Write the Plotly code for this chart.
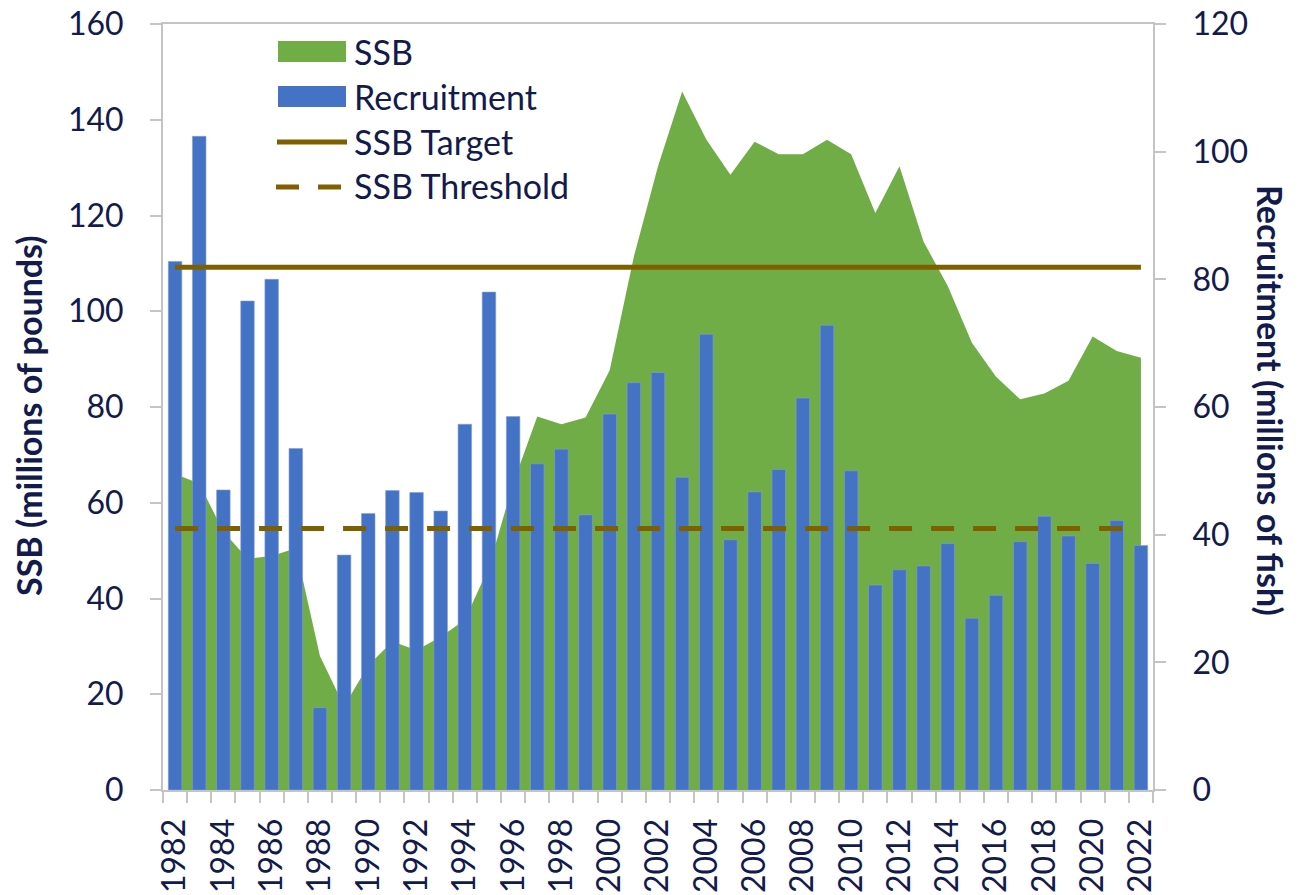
import plotly.graph_objects as go

years = list(range(1982, 2023))
ssb = [66.0, 64.0, 54.0, 48.3, 48.9, 50.5, 28.0, 17.5, 26.0, 31.0,
       29.2, 32.0, 35.5, 46.6, 64.0, 78.0, 76.4, 77.8, 87.7, 111.4,
       130.3, 145.9, 135.9, 128.5, 135.4, 132.8, 132.8, 135.8, 132.8, 120.5,
       130.3, 114.5, 105.3, 93.4, 86.3, 81.6, 82.8, 85.5, 94.7, 91.7, 90.3]
recruitment = [82.8, 102.4, 47.0, 76.6, 80.0, 53.5, 12.9, 36.8, 43.3, 46.9,
               46.6, 43.7, 57.3, 78.0, 58.5, 51.1, 53.4, 43.1, 58.9, 63.8,
               65.4, 49.0, 71.4, 39.2, 46.7, 50.2, 61.4, 72.8, 50.0, 32.1,
               34.5, 35.1, 38.6, 26.9, 30.5, 38.9, 42.9, 39.8, 35.5, 42.2, 38.3]
ssb_target = [109.2]
ssb_threshold = [54.6]
x_tick_labels = [str(y) for y in range(1982, 2023, 2)]
legend_names = ["SSB", "Recruitment", "SSB Target", "SSB Threshold"]

GREEN = "#70AD47"
BLUE = "#4472C4"
BROWN = "#7F6000"
TEXT = "#131A4C"
AXIS = "#C4C4C4"
FONT = "Lato"

# body margin is removed by post_script, so the figure fills the 1303x895 window
W, H = 1303, 895
L, T = 163, 24
PW, PH = 990, 766
R, B = W - L - PW, H - T - PH


def px(xp):
    return (xp - L) / PW


def py(yp):
    return (T + PH - yp) / PH


fig = go.Figure()
fig.add_trace(go.Scatter(x=years, y=ssb, fill="tozeroy", mode="lines",
                         line=dict(width=0, color=GREEN), fillcolor=GREEN,
                         name=legend_names[0], yaxis="y"))
fig.add_trace(go.Bar(x=years, y=recruitment, yaxis="y2", width=0.56,
                     marker=dict(color=BLUE, line=dict(width=0.6, color="#7f9fd8")),
                     name=legend_names[1]))
fig.add_trace(go.Scatter(x=[years[0], years[-1]], y=ssb_target * 2, yaxis="y3",
                         mode="lines", line=dict(color=BROWN, width=5),
                         name=legend_names[2]))
fig.add_trace(go.Scatter(x=[years[0], years[-1]], y=ssb_threshold * 2, yaxis="y3",
                         mode="lines", line=dict(color=BROWN, width=5, dash="23px,19px"),
                         name=legend_names[3]))

tickfont = dict(family=FONT, size=32, color=TEXT)

fig.update_layout(
    width=W, height=H,
    margin=dict(l=L, r=R, t=T, b=B, pad=0),
    paper_bgcolor="white", plot_bgcolor="white",
    showlegend=False,
    xaxis=dict(range=[years[0] - 0.5, years[-1] + 0.5], automargin=False,
               tickmode="array", tickvals=list(range(1982, 2023, 2)),
               ticktext=x_tick_labels, tickangle=-90, ticks="",
               tickfont=tickfont, showgrid=False, zeroline=False,
               showline=True, linecolor=AXIS, linewidth=2, mirror=True,
               ticklabelstandoff=14, ticklabeloverflow="allow",
               minor=dict(tickmode="array",
                          tickvals=[y - 0.5 for y in range(1982, 2024)],
                          ticks="outside", ticklen=11, tickcolor=AXIS, tickwidth=1.5,
                          showgrid=False)),
    yaxis=dict(range=[0, 160], dtick=20, tickfont=tickfont, showgrid=False,
               automargin=False, ticklabeloverflow="allow",
               zeroline=False, showline=True, linecolor=AXIS, linewidth=2,
               ticks="outside", ticklen=11, tickcolor=AXIS, tickwidth=1.5,
               ticklabelstandoff=20),
    yaxis2=dict(range=[0, 120], dtick=20, overlaying="y", side="right",
                automargin=False, ticklabeloverflow="allow",
                tickfont=tickfont, showgrid=False, zeroline=False, showline=True,
                linecolor=AXIS, linewidth=2, ticks="outside", ticklen=11,
                tickcolor=AXIS, tickwidth=1.5, ticklabelstandoff=20),
    yaxis3=dict(range=[0, 160], overlaying="y", visible=False, automargin=False),
)

# axis titles
fig.add_annotation(text="<b>SSB (millions of pounds)</b>", textangle=-90,
                   xref="paper", yref="paper", x=px(28), y=py(416),
                   xanchor="center", yanchor="middle",
                   showarrow=False, font=dict(family=FONT, size=34, color=TEXT))
fig.add_annotation(text="<b>Recruitment (millions of fish)</b>", textangle=90,
                   xref="paper", yref="paper", x=px(1271), y=py(400),
                   xanchor="center", yanchor="middle",
                   showarrow=False, font=dict(family=FONT, size=34, color=TEXT))

# legend (manual)
fig.add_shape(type="rect", xref="paper", yref="paper", x0=px(278), x1=px(346),
              y0=py(62), y1=py(41), fillcolor=GREEN, line=dict(width=0))
fig.add_shape(type="rect", xref="paper", yref="paper", x0=px(278), x1=px(346),
              y0=py(107), y1=py(86), fillcolor=BLUE, line=dict(width=0))
fig.add_shape(type="line", xref="paper", yref="paper", x0=px(277), x1=px(347),
              y0=py(142), y1=py(142), line=dict(color=BROWN, width=5))
fig.add_shape(type="line", xref="paper", yref="paper", x0=px(276), x1=px(341),
              y0=py(187), y1=py(187), line=dict(color=BROWN, width=5, dash="23px,19px"))
for name, yc in zip(legend_names, [51, 96, 141, 186]):
    fig.add_annotation(text=name, xref="paper", yref="paper", x=px(352), y=py(yc),
                       xanchor="left", yanchor="middle", showarrow=False,
                       font=dict(family=FONT, size=34, color=TEXT))

fig.write_html("out.html",
               config={"displayModeBar": False},
               post_script="document.body.style.margin='0';"
                           "document.body.style.overflow='hidden';")
